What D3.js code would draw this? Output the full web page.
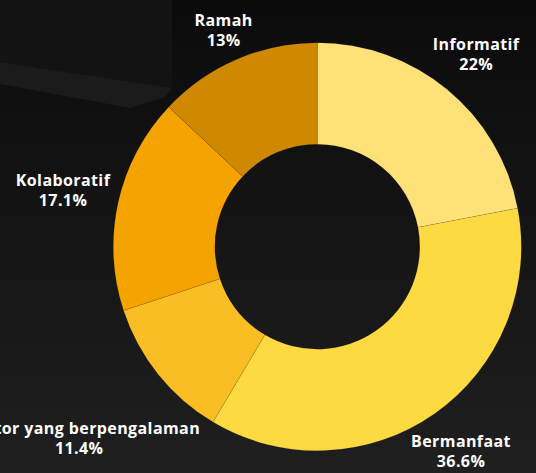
<!DOCTYPE html>
<html>
<head>
<meta charset="utf-8">
<script src="https://cdn.jsdelivr.net/npm/d3@7"></script>
<style>
  html, body { margin: 0; padding: 0; background: #111; }
  svg { display: block; }
</style>
</head>
<body>
<svg id="chart"></svg>
<script>
const categories = ['Informatif', 'Bermanfaat', 'Mentor yang berpengalaman', 'Kolaboratif', 'Ramah'];
const shares = [22, 36.6, 11.4, 17.1, 13];
const shareLabels = ['22%', '36.6%', '11.4%', '17.1%', '13%'];
const sliceColors = ['#fee277', '#fdda42', '#f9be24', '#f5a300', '#cf8900'];

(function() {
  const dim = { w: 536, h: 473 },
    center = { x: 317.3, y: 246.7 },
    outerR = 204,
    innerR = 102.5,
    labelR = 211,
    fontSize = 16,
    lineGap = 20,
    capH = fontSize * 0.72;

  const $svg = d3.select('#chart')
    .attr('width', dim.w)
    .attr('height', dim.h);

  // dark photo-like backdrop
  const defs = $svg.append('defs');
  const grad = defs.append('linearGradient')
    .attr('id', 'bg')
    .attr('x1', 0).attr('y1', 0).attr('x2', 0).attr('y2', 1);
  grad.append('stop').attr('offset', '0%').attr('stop-color', '#0b0b0b');
  grad.append('stop').attr('offset', '45%').attr('stop-color', '#141414');
  grad.append('stop').attr('offset', '100%').attr('stop-color', '#1f1f1f');
  $svg.append('rect')
    .attr('width', dim.w)
    .attr('height', dim.h)
    .attr('fill', 'url(#bg)');

  // faint box shape in the top left corner
  $svg.append('polygon')
    .attr('points', '0,0 172,0 172,88 0,62')
    .attr('fill', '#131313');
  $svg.append('polygon')
    .attr('points', '0,62 172,88 165,97 130,108 0,84')
    .attr('fill', '#1b1b1b');

  const rows = categories.map((c, i) => ({
    name: c,
    value: shares[i],
    text: shareLabels[i],
    color: sliceColors[i]
  }));

  const pie = d3.pie()
    .sort(null)
    .value((d) => d.value),
    arc = d3.arc()
    .innerRadius(innerR)
    .outerRadius(outerR),
    arcs = pie(rows);

  const $g = $svg.append('g')
    .attr('transform', 'translate(' + center.x + ',' + center.y + ')');

  $g.selectAll('path')
    .data(arcs)
    .enter()
    .append('path')
    .attr('d', arc)
    .attr('fill', (d) => d.data.color)
    .attr('stroke', 'rgba(0,0,0,0.10)')
    .attr('stroke-width', 0.8);

  // labels: box pushed out along the mid angle until its nearest point sits at labelR
  const $labels = $g.selectAll('.lbl')
    .data(arcs)
    .enter()
    .append('text')
    .attr('class', 'lbl')
    .attr('text-anchor', 'middle')
    .attr('fill', '#ffffff')
    .attr('font-family', '"Open Sans", "DejaVu Sans", sans-serif')
    .attr('font-weight', 700)
    .attr('font-size', fontSize)
    .attr('letter-spacing', 0.4);
  $labels.append('tspan')
    .attr('class', 'l1')
    .text((d) => d.data.name);
  $labels.append('tspan')
    .attr('class', 'l2')
    .text((d) => d.data.text);

  $labels.each(function(d) {
    const $t = d3.select(this),
      w = Math.max(
        $t.select('.l1').node().getComputedTextLength(),
        $t.select('.l2').node().getComputedTextLength()
      ),
      h = lineGap + capH,
      a = (d.startAngle + d.endAngle) / 2,
      ux = Math.sin(a),
      uy = -Math.cos(a);
    const nearest = (t) => {
      const px = Math.max(Math.abs(t * ux) - w / 2, 0),
        py = Math.max(Math.abs(t * uy) - h / 2, 0);
      return Math.sqrt(px * px + py * py);
    };
    var lo = 0, hi = 600;
    for (var k = 0; k < 60; k++) {
      const mid = (lo + hi) / 2;
      if (nearest(mid) < labelR) lo = mid; else hi = mid;
    }
    const bx = lo * ux,
      by = lo * uy,
      top = by - h / 2;
    $t.select('.l1').attr('x', bx).attr('y', top + capH);
    $t.select('.l2').attr('x', bx).attr('y', top + capH + lineGap);
  });
})();
</script>
</body>
</html>
